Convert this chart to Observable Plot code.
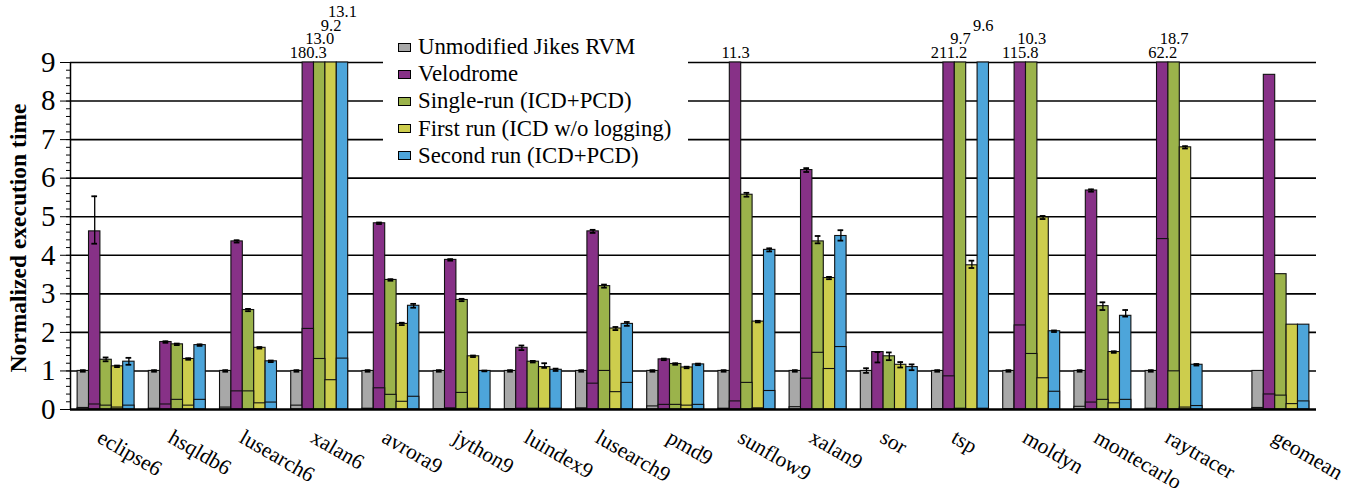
<!DOCTYPE html>
<html><head><meta charset="utf-8">
<script src="https://cdn.jsdelivr.net/npm/d3@7"></script>
<script src="https://cdn.jsdelivr.net/npm/@observablehq/plot@0.6"></script>
<style>
body{margin:0;background:#fff;}
#wrap{position:relative;width:1359px;height:495px;font-family:"Liberation Serif","Times New Roman",Times,"DejaVu Serif",serif;}
#wrap svg text{font-family:"Liberation Serif","Times New Roman",Times,"DejaVu Serif",serif;}
#legend{position:absolute;left:383px;top:30px;width:305px;height:135px;background:#fff;}
.item{position:absolute;left:15px;height:27px;display:flex;align-items:center;font-size:22.8px;color:#000;white-space:nowrap;}
.sw{width:11px;height:7px;border:1px solid #000;margin-right:7px;}
</style></head><body><div id="wrap"></div>
<script>
const benchmarks = ["eclipse6","hsqldb6","lusearch6","xalan6","avrora9","jython9","luindex9","lusearch9","pmd9","sunflow9","xalan9","sor","tsp","moldyn","montecarlo","raytracer","geomean"];
const seriesNames = ["Unmodified Jikes RVM","Velodrome","Single-run (ICD+PCD)","First run (ICD w/o logging)","Second run (ICD+PCD)"];
const colors = ["#a8a8a8","#873187","#9bb34b","#cdcd4d","#4da5da"];
const yTicks = [0,1,2,3,4,5,6,7,8,9];
const yLabel = "Normalized execution time";

// totals
const unmodified = [1,1,1,1,1,1,1,1,1,1,1,1.0,1,1,1,1,1];
const velodrome  = [4.62,1.75,4.36,180.3,4.83,3.88,1.6,4.62,1.3,11.3,6.21,1.49,211.2,115.8,5.68,62.2,8.68];
const singleRun  = [1.29,1.69,2.58,13.0,3.36,2.84,1.24,3.2,1.18,5.57,4.36,1.38,9.7,10.3,2.68,18.7,3.51];
const firstRun   = [1.12,1.31,1.6,9.2,2.22,1.38,1.1,2.1,1.09,2.28,3.41,1.16,3.74,4.98,1.49,6.8,2.2];
const secondRun  = [1.24,1.67,1.25,13.1,2.69,1.0,1.03,2.22,1.17,4.14,4.5,1.1,9.6,2.03,2.43,1.16,2.2];
// lower (inner) segment
const unmodifiedBase = [0.04,0.02,0.05,0.1,0.02,0.01,0.01,0.03,0.08,0.02,0.06,0,0.01,0.01,0.07,0.02,0.04];
const velodromeBase  = [0.13,0.13,0.47,2.09,0.55,0.03,0.02,0.67,0.12,0.21,0.8,0,0.86,2.18,0.18,4.42,0.39];
const singleRunBase  = [0.1,0.25,0.47,1.31,0.38,0.43,0.02,1.0,0.12,0.69,1.47,0,0.02,1.44,0.25,0.99,0.36];
const firstRunBase   = [0.05,0.1,0.16,0.76,0.2,0.02,0.02,0.45,0.1,0.03,1.05,0,0,0.81,0.16,0.05,0.14];
const secondRunBase  = [0.1,0.25,0.18,1.32,0.33,0.01,0.02,0.69,0.12,0.48,1.62,0,0.02,0.46,0.25,0.09,0.21];
// error bars [minus, plus]
const unmodifiedErr = [[.02,.02],[.02,.02],[.02,.02],[.02,.02],[.02,.02],[.02,.02],[.02,.02],[.02,.02],[.02,.02],[.02,.02],[.02,.02],[.05,.07],[.02,.02],[.02,.02],[.02,.02],[.02,.02],[0,0]];
const velodromeErr  = [[.32,.91],[.02,.02],[.03,.03],[0,0],[.02,.02],[.02,.02],[.06,.06],[.04,.04],[.02,.02],[0,0],[.05,.05],[.27,0],[0,0],[0,0],[.03,.03],[0,0],[0,0]];
const singleRunErr  = [[.04,.06],[.02,.02],[.03,.03],[0,0],[.02,.02],[.03,.03],[.02,.02],[.04,.04],[.02,.02],[.05,.05],[.05,.14],[.1,.1],[0,0],[0,0],[.1,.1],[0,0],[0,0]];
const firstRunErr   = [[.02,.02],[.02,.02],[.02,.02],[0,0],[.03,.03],[.02,.02],[.02,.1],[.04,.04],[.02,.02],[.02,.02],[.03,.03],[.07,.07],[.07,.12],[.04,.04],[.02,.02],[.03,.03],[0,0]];
const secondRunErr  = [[.08,.1],[.02,.02],[.02,.02],[0,0],[.05,.05],[.01,.01],[.03,.03],[.05,.05],[.02,.02],[.04,.04],[.12,.15],[.08,.07],[0,0],[.02,.02],[.02,.15],[.02,.02],[0,0]];

const series = [
  {name:seriesNames[0], total:unmodified, base:unmodifiedBase, err:unmodifiedErr},
  {name:seriesNames[1], total:velodrome, base:velodromeBase, err:velodromeErr},
  {name:seriesNames[2], total:singleRun, base:singleRunBase, err:singleRunErr},
  {name:seriesNames[3], total:firstRun, base:firstRunBase, err:firstRunErr},
  {name:seriesNames[4], total:secondRun, base:secondRunBase, err:secondRunErr}
];
const yMax = 9;
const barW = 0.16, pad = 0.1;
const slotOf = (b,i) => b === "geomean" ? i + 0.5 : i;

const rows = [];
benchmarks.forEach((b,i) => {
  const slot = slotOf(b,i);
  let rank = 0;
  series.forEach((s,k) => {
    const x1 = slot + pad + barW*k;
    const v = s.total[i];
    const clipped = v > yMax;
    rows.push({bench:b, series:s.name, x1, x2:x1+barW, xc:x1+barW/2, total:v, top:Math.min(v,yMax),
      base:s.base[i], lo:v - s.err[i][0], hi:v + s.err[i][1], hasErr:(s.err[i][0]+s.err[i][1])>0 && !clipped,
      clipped, rank: clipped ? rank++ : -1});
  });
});
const errRows = rows.filter(d => d.hasErr);
const clippedRows = rows.filter(d => d.clipped);
const labelRows = benchmarks.map((b,i) => ({bench:b, xc:slotOf(b,i)+0.5}));
const serif = "Liberation Serif, Times New Roman, Times, DejaVu Serif, serif";

const chart = Plot.plot({
  width:1359, height:495, marginLeft:70, marginRight:43, marginTop:62, marginBottom:86,
  x:{domain:[0,17.5], axis:null},
  y:{domain:[0,yMax], axis:null},
  color:{domain:seriesNames, range:colors},
  style:{fontFamily:serif, background:"white", color:"black"},
  marks:[
    Plot.ruleY(yTicks.filter(t => t > 0), {stroke:"#000", strokeWidth:1.6}),
    Plot.rect(rows, {x1:"x1", x2:"x2", y1:0, y2:"top", fill:"series", stroke:"#111", strokeWidth:1.1}),
    Plot.rect(rows, {x1:"x1", x2:"x2", y1:0, y2:"base", fill:"series", stroke:"#111", strokeWidth:1.1}),
    Plot.ruleX(errRows, {x:"xc", y1:"lo", y2:"hi", stroke:"#000", strokeWidth:1.3}),
    Plot.ruleY(errRows, {y:"hi", x1:d => d.xc - 0.04, x2:d => d.xc + 0.04, stroke:"#000", strokeWidth:1.8}),
    Plot.ruleY(errRows, {y:"lo", x1:d => d.xc - 0.04, x2:d => d.xc + 0.04, stroke:"#000", strokeWidth:1.8}),
    ...[0,1,2,3].map(r => Plot.text(clippedRows.filter(d => d.rank === r), {
      x:"xc", y:yMax, text:d => d.total.toFixed(1), dy:-10 - 13.5*r, fontSize:16.5, fill:"#000"})),
    Plot.ruleY([0], {stroke:"#000", strokeWidth:2.5}),
    Plot.ruleX([0], {y1:0, y2:yMax, stroke:"#000", strokeWidth:1.5}),
    Plot.axisY({ticks:d3.range(0,46).map(i => i/5), tickSize:4, tickFormat:() => "", stroke:"#000", strokeWidth:1}),
    Plot.axisY({ticks:yTicks, tickSize:10, tickPadding:5, fontSize:29, tickFormat:d3.format("d"), label:null, stroke:"#000", fill:"#000"}),
    Plot.text(labelRows, {x:"xc", y:0, text:"bench", rotate:30, textAnchor:"start", dx:-7, dy:26, fontSize:21.5, fill:"#000"}),
    Plot.text([yLabel], {frameAnchor:"left", textAnchor:"middle", rotate:-90, dx:-52, dy:2, fontSize:23.5, fontWeight:"bold", fill:"#000"})
  ]
});
const wrap = document.getElementById("wrap");
wrap.appendChild(chart);
const legend = document.createElement("div");
legend.id = "legend";
seriesNames.forEach((n,k) => {
  const it = document.createElement("div");
  it.className = "item";
  it.style.top = (17 + 27.2*k - 13.5) + "px";
  const sw = document.createElement("span");
  sw.className = "sw";
  sw.style.background = colors[k];
  it.appendChild(sw);
  it.appendChild(document.createTextNode(n));
  legend.appendChild(it);
});
wrap.appendChild(legend);
</script></body></html>
